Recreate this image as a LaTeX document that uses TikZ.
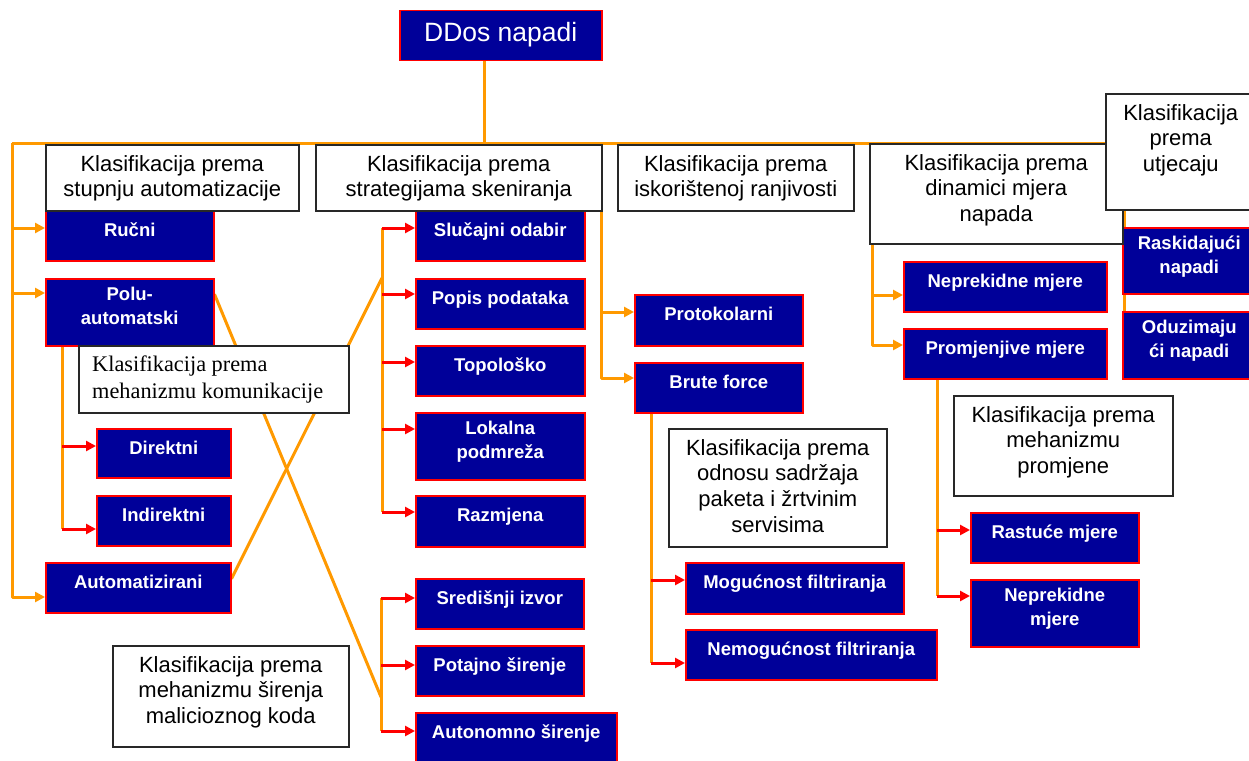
\documentclass[tikz,border=0pt]{standalone}
\usepackage{fontspec}
\setmainfont{Liberation Sans}
\newfontfamily\serifa{Liberation Serif}
\usetikzlibrary{arrows.meta}
\definecolor{navy}{RGB}{0,0,153}
\definecolor{orng}{RGB}{255,153,0}
\definecolor{rd}{RGB}{255,0,0}
\definecolor{bord}{RGB}{40,40,40}
\pgfdeclarelayer{bg}
\pgfsetlayers{bg,main}
\tikzset{
 bbox/.style={draw=rd, line width=1.5pt, fill=navy, anchor=north west, inner sep=0pt},
 wbox/.style={draw=bord, line width=1.5pt, fill=white, anchor=north west, inner sep=0pt},
 btext/.style={text=white, font=\fontsize{18.5}{24}\selectfont\bfseries, align=center, anchor=north, inner sep=0pt, execute at begin node=\strut},
 wtext/.style={text=black, font=\fontsize{22}{25.8}\selectfont, align=center, anchor=north, inner sep=0pt, execute at begin node=\strut},
 oline/.style={draw=orng, line width=3pt, line join=round},
 oarrow/.style={oline, -{Triangle[length=10pt,width=10pt]}},
 rarrow/.style={draw=rd, line width=3pt, -{Triangle[length=10pt,width=10pt]}},
}
\newcommand\bluebx[7]{%
 \node[bbox,minimum width=#4pt,minimum height=#5pt] (#1) at (#2,#3) {};
 \node[btext] (#1-t) at ([yshift=-9pt]#1.north) {#7};
 \coordinate (#1-in) at ([yshift=-#6pt]#1.north west);}
\newcommand\whitebx[6]{%
 \node[wbox,minimum width=#4pt,minimum height=#5pt] (#1) at (#2,#3) {};
 \node[wtext] (#1-t) at ([yshift=-11pt]#1.north) {#6};}
\begin{document}
\begin{tikzpicture}[x=1pt,y=-1pt]
\useasboundingbox (0,0) rectangle (1249,760);
% blue boxes
\node[bbox,minimum width=202pt,minimum height=50pt] (ddos) at (399,10) {};
\node[text=white,font=\fontsize{26.5}{30}\selectfont,inner sep=0pt] (ddos-t) at ([yshift=1pt]ddos.center) {DDos napadi};
\bluebx{rucni}{45}{210}{168}{50}{18}{Ručni}
\bluebx{polu}{45}{278}{168}{67}{15}{Polu-\\automatski}
\bluebx{direktni}{96}{428}{134}{49}{18}{Direktni}
\bluebx{indirektni}{96}{495}{134}{50}{34}{Indirektni}
\bluebx{auto}{45}{562}{185}{50}{35}{Automatizirani}
\bluebx{slucajni}{415}{210}{169}{50}{18}{Slučajni odabir}
\bluebx{popis}{415}{278}{169}{50}{16}{Popis podataka}
\bluebx{topo}{415}{345}{169}{50}{17}{Topološko}
\bluebx{lokalna}{415}{412}{169}{67}{17}{Lokalna\\podmreža}
\bluebx{razmjena}{415}{495}{169}{51}{17}{Razmjena}
\bluebx{sredisnji}{415}{578}{168}{50}{20}{Središnji izvor}
\bluebx{potajno}{415}{645}{168}{50}{20}{Potajno širenje}
\bluebx{autonomno}{415}{712}{201}{50}{19}{Autonomno širenje}
\bluebx{proto}{634}{294}{168}{51}{18}{Protokolarni}
\bluebx{brute}{634}{362}{168}{50}{16}{Brute force}
\bluebx{moguc}{685}{562}{218}{51}{18}{Mogućnost filtriranja}
\bluebx{nemoguc}{685}{629}{251}{50}{34}{Nemogućnost filtriranja}
\bluebx{nepr}{903}{261}{203}{50}{34}{Neprekidne mjere}
\bluebx{promj}{903}{328}{203}{50}{17}{Promjenjive mjere}
\bluebx{raskid}{1122}{227}{133}{66}{18}{Raskidajući\\napadi}
\bluebx{oduz}{1122}{311}{133}{67}{18}{Oduzimaju\\ći napadi}
\bluebx{rastuce}{970}{512}{168}{50}{18}{Rastuće mjere}
\bluebx{neprb}{970}{579}{168}{67}{17}{Neprekidne\\mjere}
% white boxes
\whitebx{kstup}{45}{144}{253}{66}{Klasifikacija prema\\stupnju automatizacije}
\whitebx{kstrat}{315}{144}{286}{66}{Klasifikacija prema\\strategijama skeniranja}
\whitebx{kiskor}{617}{144}{236}{66}{Klasifikacija prema\\iskorištenoj ranjivosti}
\whitebx{kdin}{869}{143}{253}{100}{Klasifikacija prema\\dinamici mjera\\napada}
\whitebx{kutj}{1105}{93}{150}{116}{Klasifikacija\\prema\\utjecaju}
\whitebx{kpak}{668}{428}{218}{118}{Klasifikacija prema\\odnosu sadržaja\\paketa i žrtvinim\\servisima}
\whitebx{kpromj}{953}{395}{219}{100}{Klasifikacija prema\\mehanizmu\\promjene}
\whitebx{ksir}{112}{645}{236}{101}{Klasifikacija prema\\mehanizmu širenja\\malicioznog koda}
\node[wbox,minimum width=270pt,minimum height=67pt] (kkom) at (78,345) {};
\node[inner sep=0pt,anchor=north west,align=left,font=\serifa\fontsize{22.3}{27}\selectfont,execute at begin node=\strut] (kkom-t) at ([xshift=14pt,yshift=-11pt]kkom.north west) {Klasifikacija prema\\mehanizmu komunikacije};
% trunk coordinates
\coordinate (dd) at ([xshift=-16pt]ddos.south);
\coordinate (lt) at (12,143);
\coordinate (rt) at (1124,143);
\coordinate (rb) at (1124,345);
\coordinate (it) at (601,143);
\coordinate (dt) at (872,143);
\coordinate (pk) at (62,529);
\coordinate (stt) at (382,228);
\coordinate (stb) at (382,512);
\coordinate (stm) at (382,278);
\coordinate (spt) at (381,598);
\coordinate (spb) at (381,731);
\coordinate (spm) at (381,697);
\coordinate (bk) at (651,663);
\coordinate (pmk) at (937,596);
\coordinate (polu-out) at ([yshift=18pt]polu.east);
\coordinate (auto-out) at ([yshift=9pt]auto.east);
\begin{pgfonlayer}{bg}
\draw[oline] (dd) -- (dd |- lt);
\draw[oline] (lt) -- (rt) -- (rb);
\draw[oarrow] (lt) |- (rucni-in);
\draw[oarrow] (lt) |- (polu-in);
\draw[oarrow] (lt) |- (auto-in);
\draw[oarrow] (it) |- (proto-in);
\draw[oarrow] (it) |- (brute-in);
\draw[oarrow] (dt) |- (nepr-in);
\draw[oarrow] (dt) |- (promj-in);
% communication mechanism
\draw[oline] (polu.south -| pk) -- (pk);
\draw[rarrow] (pk |- direktni-in) -- (direktni-in);
\draw[rarrow] (pk |- indirektni-in) -- (indirektni-in);
% crossing lines
\draw[oline] (polu-out) -- (spm);
\draw[oline] (auto-out) -- (stm);
% scanning strategies
\draw[oline] (stt) -- (stb);
\draw[rarrow] (stt |- slucajni-in) -- (slucajni-in);
\draw[rarrow] (stt |- popis-in) -- (popis-in);
\draw[rarrow] (stt |- topo-in) -- (topo-in);
\draw[rarrow] (stt |- lokalna-in) -- (lokalna-in);
\draw[rarrow] (stt |- razmjena-in) -- (razmjena-in);
% propagation
\draw[oline] (spt) -- (spb);
\draw[rarrow] (spt |- sredisnji-in) -- (sredisnji-in);
\draw[rarrow] (spt |- potajno-in) -- (potajno-in);
\draw[rarrow] (spt |- autonomno-in) -- (autonomno-in);
% packet content
\draw[oline] (brute.south -| bk) -- (bk);
\draw[rarrow] (bk |- moguc-in) -- (moguc-in);
\draw[rarrow] (bk |- nemoguc-in) -- (nemoguc-in);
% change mechanism
\draw[oline] (promj.south -| pmk) -- (pmk);
\draw[rarrow] (pmk |- rastuce-in) -- (rastuce-in);
\draw[rarrow] (pmk |- neprb-in) -- (neprb-in);
\end{pgfonlayer}
\end{tikzpicture}
\end{document}
